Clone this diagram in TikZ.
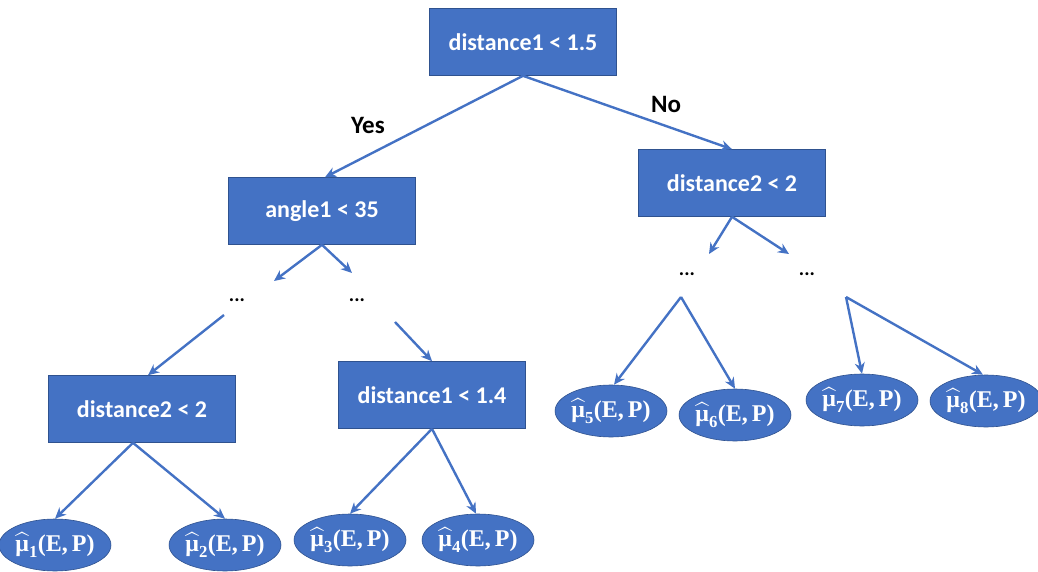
\documentclass[tikz,border=0pt]{standalone}
\usepackage{fontspec}
\setmainfont{Carlito}
\newfontfamily\leaffont{Liberation Serif}
\usepackage{amsmath}
\usetikzlibrary{shapes.geometric,arrows.meta}
\definecolor{boxblue}{HTML}{4472C4}
\definecolor{rimblue}{HTML}{2F528F}
\begin{document}
\begin{tikzpicture}[x=1pt, y=-1pt,
  test/.style={rectangle, fill=boxblue, draw=rimblue, line width=.6pt,
    minimum width=187pt, minimum height=67pt, text=white,
    font=\fontsize{24}{28}\selectfont\bfseries},
  leaf/.style={ellipse, fill=boxblue, draw=rimblue, line width=.6pt,
    minimum width=96pt, minimum height=52pt, inner sep=0pt, text=white,
    font=\fontsize{24}{28}\leaffont\bfseries},
  dots/.style={font=\fontsize{20}{22}\selectfont\bfseries, inner sep=0pt},
  answer/.style={font=\fontsize{25}{29}\selectfont\bfseries},
  arc/.style={boxblue, line width=2.4pt, -{Stealth[length=11pt,width=10pt,inset=3.5pt]}}]
\useasboundingbox (0,0) rectangle (1038,572);

% split nodes
\node[test] (root)  at (523,42)  {distance1 < 1.5};
\node[test] (angle) at (322,211) {angle1 < 35};
\node[test] (distR) at (732,183) {distance2 < 2};
\node[test] (distL) at (142,409) {distance2 < 2};
\node[test] (distM) at (432,395) {distance1 < 1.4};

% leaves
\foreach \i/\x/\y in {1/55/545, 2/225/545, 3/350/540, 4/478/540,
                      5/611/411, 6/735/415, 7/862/400, 8/986/401}
    \node[leaf] (mu\i) at (\x,\y) {$\widehat{\text{μ}}_{\text{\i}}$(E,\,P)};

% elided parts of the tree
\node[dots] (d1) at (237,300) {...};
\node[dots] (d2) at (357,300) {...};
\node[dots] (d3) at (687,274) {...};
\node[dots] (d4) at (807,274) {...};

\coordinate (a1) at (274,281);
\coordinate (a2) at (352,273);
\coordinate (b1) at (709,254);
\coordinate (b2) at (789,254);
\coordinate (f1) at (224,315);
\coordinate (f2) at (395,322);
\coordinate (f3) at (681,297);
\coordinate (f4) at (846,297);

\node[answer] (yes) at (368,125) {Yes};
\node[answer] (no)  at (666,104) {No};

\draw[arc] (root.south) -- ([xshift=3pt]angle.north);
\draw[arc] (root.south) -- (distR.north);

\draw[arc] (angle.south) -- (a1);
\draw[arc] (angle.south) -- (a2);
\draw[arc] (distR.south) -- (b1);
\draw[arc] (distR.south) -- (b2);

\draw[arc] (f1) -- ([xshift=6pt]distL.north);
\draw[arc] (f2) -- (distM.north);

\draw[arc] ([xshift=-9pt]distL.south) -- (mu1.north);
\draw[arc] ([xshift=-9pt]distL.south) -- (mu2.north);
\draw[arc] (distM.south) -- (mu3.north);
\draw[arc] (distM.south) -- ([xshift=-2pt]mu4.north);
\draw[arc] (f3) -- ([xshift=3pt]mu5.north);
\draw[arc] (f3) -- (mu6.north);
\draw[arc] (f4) -- (mu7.north);
\draw[arc] (f4) -- ([xshift=-3pt]mu8.north);
\end{tikzpicture}
\end{document}
